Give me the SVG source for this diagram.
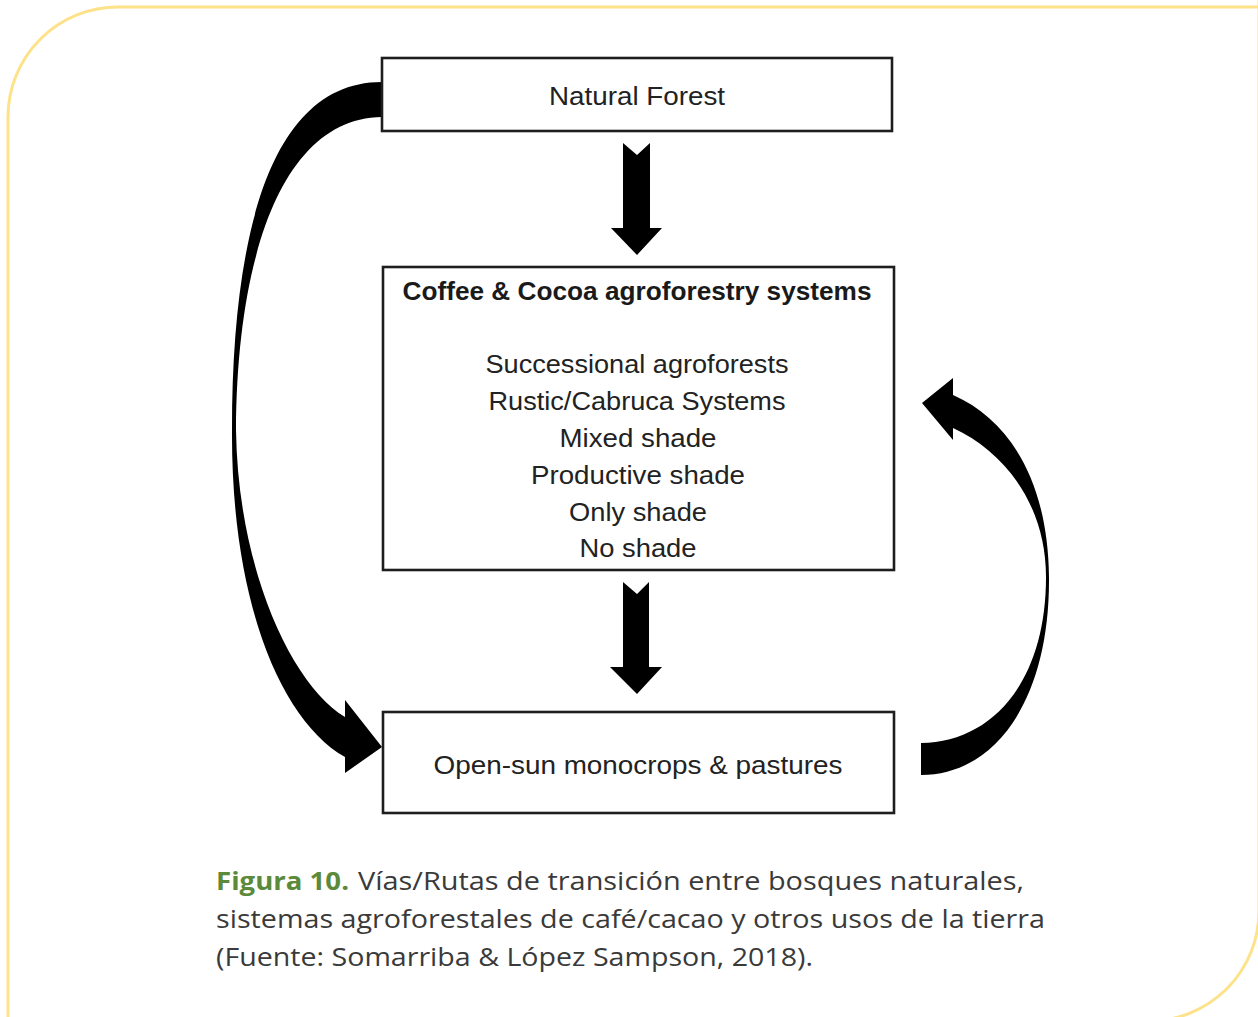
<svg xmlns="http://www.w3.org/2000/svg" width="1258" height="1017" viewBox="0 0 1258 1017">
  <style>
    .box { fill: #ffffff; stroke: #1e1e1e; stroke-width: 2.6; }
    .lbl { font-family: "Liberation Sans", Arial, sans-serif; font-size: 25px; fill: #222222; text-anchor: middle; }
    .ttl { font-family: "Liberation Sans", Arial, sans-serif; font-size: 25px; font-weight: bold; fill: #1a1a1a; text-anchor: middle; }
    .arrow { fill: #000000; }
    .cap { font-family: "Open Sans", "Noto Sans", sans-serif; font-size: 25px; fill: #3a3a3a; }
    .capb { font-family: "Open Sans", "Noto Sans", sans-serif; font-size: 25px; font-weight: bold; fill: #5b8a3a; }
  </style>

  <rect width="1258" height="1017" fill="#ffffff"/>

  <!-- card frame: rounded top-left and bottom-right corners -->
  <path d="M 8 1040 L 8 117 A 110 110 0 0 1 118 7 L 1270 7" fill="none" stroke="#fde28a" stroke-width="3"/>
  <path d="M 1259 -10 L 1259 911 A 110 110 0 0 1 1149 1021 L -10 1021" fill="none" stroke="#fde28a" stroke-width="3"/>

  <g id="connectors">
    <!-- Natural Forest -> Coffee & Cocoa -->
    <path class="arrow" d="M 623 143 L 637 155 L 650 143 L 650 228 L 662 228 L 637 255 L 611 228 L 623 228 Z"/>
    <!-- Coffee & Cocoa -> Open-sun -->
    <path class="arrow" d="M 623 582 L 637 594 L 649 582 L 649 667 L 662 667 L 637 694 L 610 667 L 623 667 Z"/>
    <!-- Natural Forest -> Open-sun (curved, left) -->
    <path class="arrow" d="M 382 82 C 272 82 232 230 232 430 C 231 600 280 720 345 757 L 345 773 L 382 747 L 345 700 L 345 717 C 292 685 238 570 236 430 C 237 250 285 118 382 117 Z"/>
    <!-- Open-sun -> Coffee & Cocoa (curved, right) -->
    <path class="arrow" d="M 921 775 C 995 775 1050 700 1049 577 C 1048 482 1010 420 953 395 L 953 378 L 922 403 L 953 440 L 953 428 C 1005 452 1046 505 1046 577 C 1046 682 992 742 921 743 Z"/>
  </g>

  <g id="natural-forest">
    <rect class="box" x="382" y="58" width="510" height="73"/>
    <text class="lbl" x="637" y="105" textLength="176" lengthAdjust="spacingAndGlyphs">Natural Forest</text>
  </g>

  <g id="agroforestry-systems">
    <rect class="box" x="383" y="267" width="511" height="303"/>
    <text class="ttl" x="637" y="300" textLength="469" lengthAdjust="spacingAndGlyphs">Coffee &amp; Cocoa agroforestry systems</text>
    <text class="lbl" x="637" y="373" textLength="303" lengthAdjust="spacingAndGlyphs">Successional agroforests</text>
    <text class="lbl" x="637" y="410" textLength="297" lengthAdjust="spacingAndGlyphs">Rustic/Cabruca Systems</text>
    <text class="lbl" x="638" y="447" textLength="157" lengthAdjust="spacingAndGlyphs">Mixed shade</text>
    <text class="lbl" x="638" y="484" textLength="214" lengthAdjust="spacingAndGlyphs">Productive shade</text>
    <text class="lbl" x="638" y="521" textLength="138" lengthAdjust="spacingAndGlyphs">Only shade</text>
    <text class="lbl" x="638" y="557" textLength="117" lengthAdjust="spacingAndGlyphs">No shade</text>
  </g>

  <g id="open-sun">
    <rect class="box" x="383" y="712" width="511" height="101"/>
    <text class="lbl" x="638" y="774" textLength="409" lengthAdjust="spacingAndGlyphs">Open-sun monocrops &amp; pastures</text>
  </g>

  <g id="caption">
    <text class="capb" x="216" y="890" textLength="133" lengthAdjust="spacingAndGlyphs">Figura 10.</text>
    <text class="cap" x="358" y="890" textLength="666" lengthAdjust="spacingAndGlyphs">Vías/Rutas de transición entre bosques naturales,</text>
    <text class="cap" x="216" y="928" textLength="829" lengthAdjust="spacingAndGlyphs">sistemas agroforestales de café/cacao y otros usos de la tierra</text>
    <text class="cap" x="216" y="966" textLength="597" lengthAdjust="spacingAndGlyphs">(Fuente: Somarriba &amp; López Sampson, 2018).</text>
  </g>
</svg>
